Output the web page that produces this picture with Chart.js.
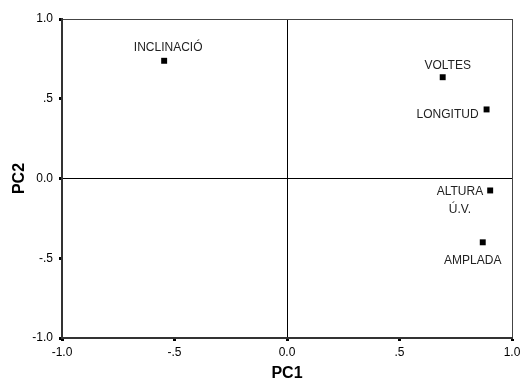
<!DOCTYPE html>
<html>
<head>
<meta charset="utf-8">
<script src="https://cdn.jsdelivr.net/npm/chart.js@4.4.0/dist/chart.umd.min.js"></script>
<style>
  html, body { margin: 0; padding: 0; background: #fff; }
  #wrap { width: 521px; height: 383px; }
</style>
</head>
<body>
<div id="wrap"><canvas id="myChart" width="521" height="383"></canvas></div>
<script>
// component loadings
var variables = ["INCLINACIÓ", "VOLTES", "LONGITUD", "ALTURA\nÚ.V.", "AMPLADA"];
var pc1 = [-0.546, 0.692, 0.887, 0.903, 0.870];
var pc2 = [0.738, 0.635, 0.433, -0.075, -0.400];
var tickValues = [-1, -0.5, 0, 0.5, 1];
var tickLabels = ["-1.0", "-.5", "0.0", ".5", "1.0"];

var points = variables.map(function (name, i) {
  return { x: pc1[i], y: pc2[i], name: name };
});

// where each name sits next to its marker
var labelPlace = {
  "INCLINACIÓ": { align: "center", dx: 4, dy: -13 },
  "VOLTES": { align: "center", dx: 5, dy: -12 },
  "LONGITUD": { align: "right", dx: -8, dy: 5 },
  "ALTURA\nÚ.V.": { align: "right", dx: -7, dy: 1 },
  "AMPLADA": { align: "center", dx: -10, dy: 18 },
};

var pointLabels = {
  id: "pointLabels",
  afterDatasetsDraw: function (chart) {
    var ctx = chart.ctx;
    var meta = chart.getDatasetMeta(0);
    ctx.save();
    ctx.font = "12px 'Liberation Sans', Arial, sans-serif";
    ctx.fillStyle = "#222";
    ctx.textBaseline = "middle";
    meta.data.forEach(function (el, i) {
      var name = points[i].name;
      var p = labelPlace[name];
      var lines = name.split("\n");
      var x = el.x + p.dx;
      var y = el.y + p.dy;
      ctx.textAlign = p.align;
      ctx.fillText(lines[0], x, y);
      if (lines.length > 1) {
        var w = ctx.measureText(lines[0]).width;
        var cx = p.align === "right" ? x - w / 2 : x;
        ctx.textAlign = "center";
        ctx.fillText(lines[1], cx, y + 18);
      }
    });
    ctx.restore();
  },
};

function gridColor(c) {
  if (c.tick && c.tick.value === 0) return "#000";
  if (c.tick && c.tick.value === 1) return "#444";
  return "rgba(0,0,0,0)";
}

var tickFont = { family: "'Liberation Sans', Arial, sans-serif", size: 12 };
var titleFont = { family: "'Liberation Sans', Arial, sans-serif", size: 16, weight: "bold" };

function fixedTicks(scale) {
  scale.ticks = tickValues.map(function (v) { return { value: v }; });
}
function tickText(value) {
  var i = tickValues.indexOf(value);
  return i >= 0 ? tickLabels[i] : "";
}

var ctx = document.getElementById("myChart").getContext("2d");
var myChart = new Chart(ctx, {
  type: "scatter",
  data: {
    datasets: [
      {
        data: points,
        pointStyle: "rect",
        pointRadius: 4.2,
        pointHoverRadius: 4.2,
        backgroundColor: "#000",
        borderColor: "#000",
        borderWidth: 0,
      },
    ],
  },
  options: {
    responsive: false,
    animation: false,
    layout: { padding: { top: 19, right: 9, left: 0, bottom: 0 } },
    plugins: { legend: { display: false }, tooltip: { enabled: false } },
    scales: {
      x: {
        min: -1,
        max: 1,
        afterBuildTicks: fixedTicks,
        afterFit: function (scale) {
          scale.height = 45;
          scale.paddingRight = 6;
        },
        border: { display: true, color: "#333", width: 2 },
        grid: {
          color: gridColor,
          lineWidth: 1,
          drawTicks: true,
          tickLength: 3,
          tickWidth: 3,
          tickColor: "#000",
        },
        ticks: { font: tickFont, color: "#000", padding: 4, maxRotation: 0, callback: tickText },
        title: { display: true, text: "PC1", font: titleFont, color: "#000", padding: { top: 0, bottom: 0 } },
      },
      y: {
        min: -1,
        max: 1,
        afterBuildTicks: fixedTicks,
        afterFit: function (scale) { scale.width = 62; },
        border: { display: true, color: "#333", width: 2 },
        grid: {
          color: gridColor,
          lineWidth: 1,
          drawTicks: true,
          tickLength: 3,
          tickWidth: 3,
          tickColor: "#000",
        },
        ticks: { font: tickFont, color: "#000", padding: 6, callback: tickText },
        title: { display: true, text: "PC2", font: titleFont, color: "#000", padding: { top: 10, bottom: 0 } },
      },
    },
  },
  plugins: [pointLabels],
});
</script>
</body>
</html>
